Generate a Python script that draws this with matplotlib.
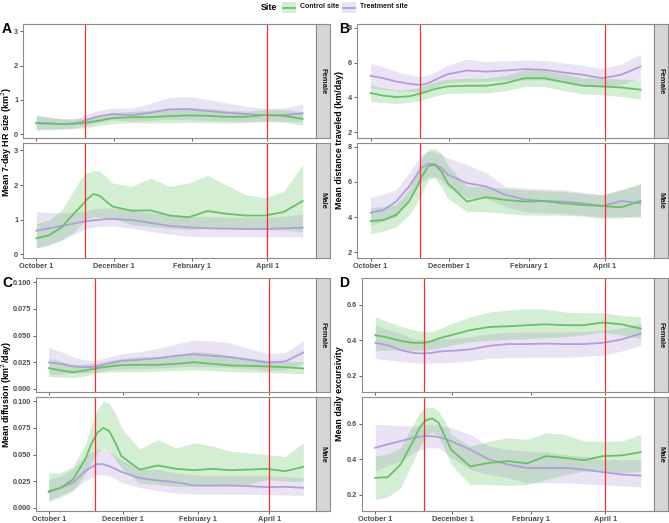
import numpy as np
import matplotlib.pyplot as plt

plt.rcParams['font.family'] = ['Liberation Sans', 'DejaVu Sans']

# days since October 1
days = [0, 10, 20, 30, 35, 40, 45, 50, 55, 60, 75, 90, 105, 120, 135, 150, 165, 180, 195, 210]
tick_days = [0, 61, 123, 182]
tick_labels = ['October 1', 'December 1', 'February 1', 'April 1']
event_days = [38.5, 182]
sexes = ['Female', 'Male']

# ---- A: 7-day HR size ----
a_f_ctrl = [0.32, 0.31, 0.30, 0.31, 0.32, 0.34, 0.37, 0.40, 0.44, 0.47, 0.50, 0.50, 0.53, 0.55, 0.54, 0.51, 0.51, 0.56, 0.54, 0.45]
a_f_ctrl_lo = [0.12, 0.13, 0.14, 0.16, 0.18, 0.20, 0.23, 0.26, 0.29, 0.31, 0.34, 0.33, 0.34, 0.34, 0.34, 0.33, 0.34, 0.38, 0.36, 0.26]
a_f_ctrl_hi = [0.55, 0.50, 0.46, 0.45, 0.46, 0.48, 0.51, 0.55, 0.59, 0.63, 0.67, 0.70, 0.75, 0.78, 0.76, 0.70, 0.68, 0.72, 0.72, 0.66]
a_f_trt = [0.34, 0.32, 0.30, 0.32, 0.36, 0.42, 0.48, 0.53, 0.56, 0.59, 0.56, 0.63, 0.73, 0.73, 0.68, 0.63, 0.59, 0.56, 0.56, 0.61]
a_f_trt_lo = [0.15, 0.16, 0.17, 0.19, 0.22, 0.26, 0.31, 0.36, 0.39, 0.42, 0.38, 0.40, 0.44, 0.42, 0.40, 0.38, 0.38, 0.38, 0.38, 0.36]
a_f_trt_hi = [0.56, 0.50, 0.44, 0.45, 0.51, 0.58, 0.64, 0.70, 0.73, 0.76, 0.76, 0.90, 1.08, 1.10, 1.02, 0.92, 0.82, 0.76, 0.76, 0.88]
a_m_ctrl = [0.46, 0.55, 0.78, 1.19, 1.38, 1.59, 1.74, 1.69, 1.53, 1.38, 1.26, 1.27, 1.12, 1.07, 1.25, 1.17, 1.12, 1.12, 1.22, 1.54]
a_m_ctrl_lo = [0.19, 0.26, 0.41, 0.65, 0.85, 1.04, 1.08, 1.08, 1.06, 1.04, 0.85, 0.80, 0.75, 0.72, 0.75, 0.75, 0.74, 0.72, 0.70, 0.65]
a_m_ctrl_hi = [0.89, 0.99, 1.28, 1.87, 2.18, 2.35, 2.42, 2.40, 2.25, 2.06, 1.96, 2.20, 1.96, 2.06, 2.28, 2.00, 1.72, 1.64, 1.82, 2.59]
a_m_trt = [0.68, 0.75, 0.82, 0.89, 0.93, 0.96, 0.98, 1.00, 1.02, 1.02, 0.99, 0.91, 0.82, 0.78, 0.75, 0.74, 0.73, 0.73, 0.75, 0.77]
a_m_trt_lo = [0.17, 0.29, 0.41, 0.58, 0.67, 0.75, 0.78, 0.80, 0.82, 0.82, 0.75, 0.66, 0.58, 0.52, 0.50, 0.50, 0.50, 0.50, 0.50, 0.50]
a_m_trt_hi = [1.23, 1.21, 1.20, 1.22, 1.24, 1.26, 1.30, 1.33, 1.34, 1.34, 1.30, 1.20, 1.14, 1.11, 1.09, 1.08, 1.07, 1.07, 1.10, 1.16]

# ---- B: distance traveled ----
b_f_ctrl = [4.25, 4.10, 4.02, 4.06, 4.15, 4.25, 4.36, 4.48, 4.56, 4.63, 4.67, 4.67, 4.82, 5.10, 5.10, 4.88, 4.67, 4.63, 4.57, 4.44]
b_f_ctrl_lo = [3.77, 3.70, 3.65, 3.70, 3.77, 3.85, 3.96, 4.08, 4.15, 4.22, 4.25, 4.25, 4.38, 4.63, 4.62, 4.40, 4.20, 4.15, 4.05, 3.90]
b_f_ctrl_hi = [4.72, 4.55, 4.42, 4.45, 4.52, 4.62, 4.75, 4.88, 4.97, 5.05, 5.10, 5.10, 5.26, 5.58, 5.55, 5.35, 5.12, 5.10, 5.05, 5.00]
b_f_trt = [5.24, 5.10, 4.91, 4.78, 4.74, 4.72, 4.82, 5.00, 5.17, 5.33, 5.54, 5.48, 5.54, 5.62, 5.58, 5.43, 5.30, 5.10, 5.30, 5.77]
b_f_trt_lo = [4.53, 4.45, 4.38, 4.34, 4.33, 4.34, 4.45, 4.60, 4.72, 4.85, 4.91, 4.92, 5.00, 5.00, 5.00, 4.88, 4.75, 4.59, 4.75, 5.10]
b_f_trt_hi = [5.96, 5.75, 5.50, 5.30, 5.24, 5.20, 5.30, 5.45, 5.65, 5.85, 6.19, 6.05, 6.10, 6.15, 6.12, 5.98, 5.85, 5.66, 5.90, 6.48]
b_m_ctrl = [3.77, 3.83, 4.12, 4.88, 5.55, 6.32, 6.89, 6.98, 6.60, 5.93, 4.88, 5.13, 4.97, 4.88, 4.91, 4.78, 4.69, 4.63, 4.55, 4.91]
b_m_ctrl_lo = [3.06, 3.20, 3.44, 4.12, 4.70, 5.36, 6.13, 6.22, 5.74, 5.07, 4.31, 4.30, 4.20, 4.11, 4.11, 4.10, 4.05, 3.92, 3.95, 4.02]
b_m_ctrl_hi = [4.55, 4.60, 4.70, 5.55, 6.50, 7.37, 7.85, 7.88, 7.65, 6.98, 5.74, 5.74, 5.64, 5.55, 5.50, 5.45, 5.35, 5.26, 5.55, 5.93]
b_m_trt = [4.25, 4.40, 4.88, 5.74, 6.28, 6.80, 7.04, 6.98, 6.80, 6.41, 5.93, 5.74, 5.26, 5.00, 4.91, 4.88, 4.78, 4.63, 4.91, 4.78]
b_m_trt_lo = [3.54, 3.75, 4.02, 4.98, 5.50, 6.03, 6.25, 6.32, 6.10, 5.74, 5.07, 5.07, 4.59, 4.30, 4.25, 4.20, 4.10, 4.02, 4.02, 4.02]
b_m_trt_hi = [5.13, 5.30, 5.55, 6.50, 7.05, 7.56, 7.75, 7.70, 7.55, 7.37, 6.98, 6.51, 5.74, 5.64, 5.60, 5.55, 5.40, 5.26, 5.55, 5.83]

# ---- C: diffusion ----
c_f_ctrl = [0.0194, 0.0172, 0.0156, 0.0172, 0.0184, 0.0194, 0.0203, 0.0210, 0.0216, 0.0222, 0.0225, 0.0225, 0.0234, 0.0250, 0.0234, 0.0219, 0.0216, 0.0210, 0.0203, 0.0191]
c_f_ctrl_lo = [0.0116, 0.0110, 0.0105, 0.0120, 0.0135, 0.0147, 0.0152, 0.0157, 0.0158, 0.0160, 0.0160, 0.0165, 0.0172, 0.0178, 0.0170, 0.0160, 0.0158, 0.0153, 0.0148, 0.0140]
c_f_ctrl_hi = [0.0287, 0.0260, 0.0230, 0.0232, 0.0236, 0.0240, 0.0252, 0.0265, 0.0275, 0.0285, 0.0303, 0.0300, 0.0320, 0.0350, 0.0340, 0.0310, 0.0290, 0.0270, 0.0262, 0.0256]
c_f_trt = [0.0247, 0.0234, 0.0210, 0.0203, 0.0206, 0.0210, 0.0225, 0.0241, 0.0250, 0.0263, 0.0272, 0.0288, 0.0310, 0.0325, 0.0310, 0.0297, 0.0272, 0.0247, 0.0256, 0.0341]
c_f_trt_lo = [0.0130, 0.0140, 0.0145, 0.0150, 0.0155, 0.0160, 0.0168, 0.0178, 0.0182, 0.0185, 0.0190, 0.0195, 0.0205, 0.0210, 0.0205, 0.0200, 0.0190, 0.0170, 0.0180, 0.0240]
c_f_trt_hi = [0.0390, 0.0350, 0.0300, 0.0270, 0.0268, 0.0270, 0.0285, 0.0300, 0.0315, 0.0330, 0.0350, 0.0380, 0.0420, 0.0460, 0.0450, 0.0430, 0.0380, 0.0330, 0.0340, 0.0450]
c_m_ctrl = [0.0156, 0.0188, 0.0266, 0.0453, 0.0594, 0.0703, 0.0750, 0.0719, 0.0609, 0.0484, 0.0359, 0.0397, 0.0366, 0.0353, 0.0366, 0.0353, 0.0359, 0.0366, 0.0344, 0.0384]
c_m_ctrl_lo = [0.0060, 0.0100, 0.0156, 0.0310, 0.0420, 0.0520, 0.0560, 0.0530, 0.0450, 0.0375, 0.0230, 0.0220, 0.0200, 0.0200, 0.0200, 0.0205, 0.0220, 0.0266, 0.0250, 0.0250]
c_m_ctrl_hi = [0.0328, 0.0330, 0.0390, 0.0590, 0.0766, 0.0920, 0.1000, 0.0980, 0.0890, 0.0750, 0.0550, 0.0640, 0.0560, 0.0610, 0.0580, 0.0530, 0.0516, 0.0500, 0.0480, 0.0610]
c_m_trt = [0.0147, 0.0190, 0.0234, 0.0344, 0.0380, 0.0410, 0.0410, 0.0390, 0.0365, 0.0337, 0.0280, 0.0256, 0.0240, 0.0210, 0.0210, 0.0210, 0.0203, 0.0194, 0.0197, 0.0188]
c_m_trt_lo = [0.0070, 0.0120, 0.0170, 0.0250, 0.0280, 0.0310, 0.0310, 0.0300, 0.0270, 0.0240, 0.0190, 0.0160, 0.0140, 0.0130, 0.0130, 0.0128, 0.0126, 0.0125, 0.0120, 0.0116]
c_m_trt_hi = [0.0266, 0.0300, 0.0370, 0.0480, 0.0520, 0.0550, 0.0550, 0.0530, 0.0490, 0.0450, 0.0360, 0.0360, 0.0330, 0.0310, 0.0300, 0.0300, 0.0300, 0.0300, 0.0295, 0.0280]

# ---- D: daily excursivity ----
d_f_ctrl = [0.429, 0.416, 0.397, 0.386, 0.386, 0.388, 0.397, 0.410, 0.420, 0.429, 0.457, 0.475, 0.479, 0.485, 0.490, 0.485, 0.485, 0.500, 0.490, 0.466]
d_f_ctrl_lo = [0.345, 0.345, 0.345, 0.345, 0.345, 0.345, 0.350, 0.355, 0.362, 0.373, 0.391, 0.400, 0.405, 0.410, 0.415, 0.420, 0.430, 0.447, 0.430, 0.410]
d_f_ctrl_hi = [0.531, 0.505, 0.480, 0.460, 0.452, 0.447, 0.450, 0.462, 0.478, 0.494, 0.531, 0.559, 0.570, 0.578, 0.575, 0.559, 0.555, 0.555, 0.540, 0.531]
d_f_trt = [0.386, 0.373, 0.345, 0.330, 0.327, 0.327, 0.330, 0.336, 0.340, 0.341, 0.349, 0.369, 0.379, 0.379, 0.382, 0.379, 0.379, 0.386, 0.405, 0.438]
d_f_trt_lo = [0.299, 0.290, 0.280, 0.275, 0.272, 0.271, 0.272, 0.273, 0.273, 0.274, 0.285, 0.299, 0.302, 0.304, 0.304, 0.304, 0.310, 0.317, 0.340, 0.373]
d_f_trt_hi = [0.485, 0.460, 0.438, 0.410, 0.404, 0.400, 0.402, 0.405, 0.408, 0.410, 0.420, 0.438, 0.445, 0.447, 0.447, 0.447, 0.450, 0.457, 0.470, 0.494]
d_m_ctrl = [0.296, 0.300, 0.371, 0.502, 0.577, 0.619, 0.630, 0.606, 0.531, 0.455, 0.361, 0.380, 0.390, 0.377, 0.418, 0.408, 0.395, 0.418, 0.422, 0.440]
d_m_ctrl_lo = [0.174, 0.190, 0.240, 0.390, 0.470, 0.530, 0.555, 0.530, 0.455, 0.371, 0.258, 0.258, 0.253, 0.258, 0.286, 0.315, 0.333, 0.333, 0.324, 0.333]
d_m_ctrl_hi = [0.418, 0.430, 0.465, 0.596, 0.662, 0.690, 0.694, 0.671, 0.615, 0.540, 0.474, 0.502, 0.521, 0.512, 0.549, 0.540, 0.502, 0.502, 0.502, 0.540]
d_m_trt = [0.465, 0.485, 0.502, 0.521, 0.527, 0.530, 0.530, 0.525, 0.515, 0.502, 0.455, 0.399, 0.371, 0.352, 0.352, 0.352, 0.343, 0.328, 0.315, 0.309]
d_m_trt_lo = [0.333, 0.365, 0.390, 0.437, 0.452, 0.465, 0.465, 0.465, 0.440, 0.410, 0.343, 0.315, 0.296, 0.268, 0.268, 0.268, 0.262, 0.258, 0.250, 0.245]
d_m_trt_hi = [0.596, 0.594, 0.590, 0.587, 0.590, 0.594, 0.596, 0.592, 0.585, 0.577, 0.540, 0.474, 0.455, 0.446, 0.440, 0.427, 0.415, 0.399, 0.399, 0.399]

GREEN = '#66c266'
PURPLE = '#b39ddb'
RED = '#ff2a2a'
BORDER = '#8c8c8c'
TICKC = '#4d4d4d'

W, H = 669, 523
fig = plt.figure(figsize=(W / 100, H / 100), dpi=100)


def box(x0, y0, x1, y1):
    # pixel box (top-left origin) -> figure fraction rect
    return [x0 / W, 1 - y1 / H, (x1 - x0) / W, (y1 - y0) / H]


def facet(rect, strip_rect, sex, ctrl, trt, ylim, yticks, yfmt, show_x):
    ax = fig.add_axes(rect)
    x = np.array(days)
    for (m, lo, hi), col in [(trt, PURPLE), (ctrl, GREEN)]:
        ax.fill_between(x, lo, hi, color=col, alpha=0.28, lw=0)
    ax.plot(x, trt[0], color=PURPLE, lw=1.3)
    ax.plot(x, ctrl[0], color=GREEN, lw=1.3)
    for d in event_days:
        ax.axvline(d, color=RED, lw=0.9)
    ax.set_xlim(-10.5, 220.5)
    ax.set_ylim(*ylim)
    ax.set_yticks(yticks)
    ax.set_yticklabels([yfmt.format(v) for v in yticks])
    ax.set_xticks(tick_days)
    if show_x:
        ax.set_xticklabels(tick_labels)
    else:
        ax.tick_params(axis='x', length=0, labelbottom=False)
    ax.tick_params(labelsize=5.3, colors=TICKC, length=2, width=0.6, pad=1.5)
    for lab in ax.get_xticklabels() + ax.get_yticklabels():
        lab.set_fontweight('bold')
    for s in ax.spines.values():
        s.set_color(BORDER)
        s.set_linewidth(0.8)
    st = fig.add_axes(strip_rect)
    st.set_facecolor('#d6d6d6')
    st.set_xticks([])
    st.set_yticks([])
    for s in st.spines.values():
        s.set_color(BORDER)
        s.set_linewidth(0.8)
    st.text(0.5, 0.5, sex, rotation=270, ha='center', va='center',
            fontsize=5.5, fontweight='bold', color='#1a1a1a', transform=st.transAxes)
    return ax


panels = [
    # letter, left px, right px, rows y px, data, ylim, ticks, fmt, ylabel, label pos, letter x
    ('A', 23, 316, [(24, 138), (143, 258)],
     [(a_f_ctrl, a_f_ctrl_lo, a_f_ctrl_hi), (a_m_ctrl, a_m_ctrl_lo, a_m_ctrl_hi)],
     [(a_f_trt, a_f_trt_lo, a_f_trt_hi), (a_m_trt, a_m_trt_lo, a_m_trt_hi)],
     (-0.108, 3.216), [0, 1, 2, 3], '{:g}', 'Mean 7-day HR size (km$^2$)', 6.5, 142, 2),
    ('B', 357, 654, [(24, 138), (143, 258)],
     [(b_f_ctrl, b_f_ctrl_lo, b_f_ctrl_hi), (b_m_ctrl, b_m_ctrl_lo, b_m_ctrl_hi)],
     [(b_f_trt, b_f_trt_lo, b_f_trt_hi), (b_m_trt, b_m_trt_lo, b_m_trt_hi)],
     (1.67, 8.21), [2, 4, 6, 8], '{:g}', 'Mean distance traveled (km/day)', 340, 140, 339),
    ('C', 36, 316, [(278, 392), (397, 511)],
     [(c_f_ctrl, c_f_ctrl_lo, c_f_ctrl_hi), (c_m_ctrl, c_m_ctrl_lo, c_m_ctrl_hi)],
     [(c_f_trt, c_f_trt_lo, c_f_trt_hi), (c_m_trt, c_m_trt_lo, c_m_trt_hi)],
     (-0.003, 0.104), [0, 0.025, 0.05, 0.075, 0.1], '{:.3f}', 'Mean diffusion (km$^2$/day)', 6.5, 394, 2),
    ('D', 362, 654, [(278, 392), (397, 511)],
     [(d_f_ctrl, d_f_ctrl_lo, d_f_ctrl_hi), (d_m_ctrl, d_m_ctrl_lo, d_m_ctrl_hi)],
     [(d_f_trt, d_f_trt_lo, d_f_trt_hi), (d_m_trt, d_m_trt_lo, d_m_trt_hi)],
     (0.11, 0.75), [0.2, 0.4, 0.6], '{:.1f}', 'Mean daily excursivity', 340, 394, 339),
]

for letter, x0, x1, rows, ctrls, trts, ylim, yt, fmt, ylab, lx, ly, letx in panels:
    for i, (y0, y1) in enumerate(rows):
        facet(box(x0, y0, x1, y1), box(x1, y0, x1 + 14, y1), sexes[i],
              ctrls[i], trts[i], ylim, yt, fmt, show_x=(i == 1))
    fig.text(lx / W, 1 - ly / H, ylab, rotation=90, ha='center', va='center',
             fontsize=6.4, fontweight='bold')
    fig.text(letx / W, 1 - (rows[0][0] + 5) / H, letter, ha='left', va='center',
             fontsize=10, fontweight='bold')

# legend
fig.text(261 / W, 1 - 7 / H, 'Site', ha='left', va='center', fontsize=6.3, fontweight='bold')
for kx, col, lab in [(282, GREEN, 'Control site'), (342, PURPLE, 'Treatment site')]:
    fig.patches.append(plt.Rectangle((kx / W, 1 - 13 / H), 14 / W, 11 / H, transform=fig.transFigure,
                                     color=col, alpha=0.28, lw=0))
    fig.lines.append(plt.Line2D([(kx + 1) / W, (kx + 13) / W], [1 - 7.5 / H, 1 - 7.5 / H],
                                transform=fig.transFigure, color=col, lw=1.3))
    fig.text((kx + 18) / W, 1 - 7 / H, lab, ha='left', va='center', fontsize=5, fontweight='bold',
             color='#1a1a1a')

fig.savefig('out.png', dpi=100)
